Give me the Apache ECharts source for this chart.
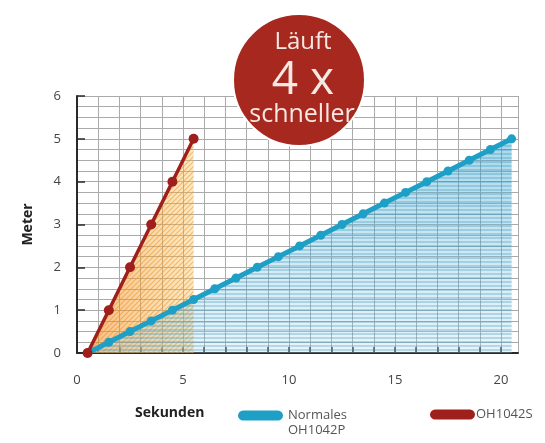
<!DOCTYPE html>
<html>
<head>
<meta charset="utf-8">
<script src="https://cdn.jsdelivr.net/npm/echarts@6/dist/echarts.min.js"></script>
<style>
  html, body { margin: 0; padding: 0; background: #fff; }
  #chart { width: 545px; height: 443px; }
</style>
</head>
<body>
<div id="chart"></div>
<script>
// Sekunden -> Meter, OH1042S (schnell)
const fastSeconds = [0.5, 1.5, 2.5, 3.5, 4.5, 5.5];
const fastMeters = [0, 1, 2, 3, 4, 5];
// Normales OH1042P
const normalSeconds = [0.5, 1.5, 2.5, 3.5, 4.5, 5.5, 6.5, 7.5, 8.5, 9.5, 10.5,
  11.5, 12.5, 13.5, 14.5, 15.5, 16.5, 17.5, 18.5, 19.5, 20.5];
const normalMeters = [0, 0.25, 0.5, 0.75, 1, 1.25, 1.5, 1.75, 2, 2.25, 2.5,
  2.75, 3, 3.25, 3.5, 3.75, 4, 4.25, 4.5, 4.75, 5];
const xTickLabels = [0, 5, 10, 15, 20];
const yTickLabels = [0, 1, 2, 3, 4, 5, 6];

const fastData = fastSeconds.map((s, i) => [s, fastMeters[i]]);
const normalData = normalSeconds.map((s, i) => [s, normalMeters[i]]);

// schraffur als muster
function hatch(w, h, color, draw) {
  const c = document.createElement("canvas");
  c.width = w;
  c.height = h;
  const ctx = c.getContext("2d");
  ctx.strokeStyle = color;
  ctx.lineWidth = 1.2;
  draw(ctx, w, h);
  return { image: c, repeat: "repeat" };
}
const orangeHatch = hatch(5, 5, "rgba(235,140,20,0.7)", (ctx, w, h) => {
  ctx.beginPath();
  ctx.moveTo(0, h); ctx.lineTo(w, 0);
  ctx.moveTo(-1, 1); ctx.lineTo(1, -1);
  ctx.moveTo(w - 1, h + 1); ctx.lineTo(w + 1, h - 1);
  ctx.stroke();
});
const blueHatch = hatch(14, 4, "rgba(25,135,180,0.6)", (ctx, w, h) => {
  ctx.beginPath();
  ctx.moveTo(0, 2); ctx.lineTo(w, 2);
  ctx.stroke();
});

const font = "'Open Sans', 'Noto Sans', sans-serif";
const gridColor = "#aaaaaa";
const pill = "path://M5,0 H39 A5,5 0 0 1 39,10 H5 A5,5 0 0 1 5,0 Z";

const chart = echarts.init(document.getElementById("chart"));
chart.setOption({
  backgroundColor: "#fff",
  animation: false,
  grid: { left: 77, right: 27, top: 96, bottom: 90, containLabel: false },
  legend: [
    {
      left: 233, top: 388,
      data: ["Normales OH1042P"],
      icon: pill,
      itemWidth: 45, itemHeight: 11, itemGap: 6,
      formatter: () => "\nNormales\nOH1042P",
      textStyle: { fontFamily: font, fontSize: 13, color: "#555", lineHeight: 15 },
    },
    {
      left: 425, top: 403,
      data: ["OH1042S"],
      icon: pill,
      itemWidth: 45, itemHeight: 11,
      textStyle: { fontFamily: font, fontSize: 13, color: "#555", padding: [0, 0, 0, -4] },
    },
  ],
  xAxis: {
    type: "value",
    min: 0, max: 20.8, interval: 1,
    axisLine: { lineStyle: { color: "#2a2a2a", width: 2 } },
    axisTick: { inside: true, length: 6, lineStyle: { color: "#2a2a2a", width: 1.5 } },
    axisLabel: {
      fontFamily: font, fontSize: 13, color: "#444", margin: 21,
      showMaxLabel: false,
      formatter: (v) => (xTickLabels.indexOf(v) >= 0 ? String(v) : ""),
    },
    splitLine: { show: true, lineStyle: { color: gridColor, width: 1 } },
  },
  yAxis: {
    type: "value",
    min: 0, max: 6, interval: 1,
    name: "Meter",
    nameLocation: "middle",
    nameRotate: 90,
    nameGap: 42,
    nameTextStyle: { fontFamily: font, fontSize: 14, fontWeight: "bold", color: "#222" },
    axisLine: { show: true, lineStyle: { color: "#2a2a2a", width: 2 } },
    axisTick: { show: true, inside: true, length: 8, lineStyle: { color: "#2a2a2a", width: 1.5 } },
    axisLabel: {
      fontFamily: font, fontSize: 13, color: "#444", margin: 16,
      formatter: (v) => (yTickLabels.indexOf(v) >= 0 ? String(v) : ""),
    },
    splitLine: { show: true, lineStyle: { color: gridColor, width: 1 } },
    minorTick: { show: false, splitNumber: 4 },
    minorSplitLine: { show: true, lineStyle: { color: gridColor, width: 1 } },
  },
  series: [
    {
      name: "fast-fill", type: "line", data: fastData, silent: true, z: 1,
      showSymbol: false, lineStyle: { width: 0 },
      areaStyle: {
        color: new echarts.graphic.LinearGradient(0, 0, 1, 0, [
          { offset: 0, color: "rgba(240,135,30,0.8)" },
          { offset: 1, color: "rgba(248,195,90,0.5)" },
        ]),
      },
    },
    {
      name: "fast-hatch", type: "line", data: fastData, silent: true, z: 1,
      showSymbol: false, lineStyle: { width: 0 },
      areaStyle: { color: orangeHatch },
    },
    {
      name: "normal-fill", type: "line", data: normalData, silent: true, z: 1,
      showSymbol: false, lineStyle: { width: 0 },
      areaStyle: {
        color: new echarts.graphic.LinearGradient(0, 0, 0, 1, [
          { offset: 0, color: "rgba(45,160,205,0.6)" },
          { offset: 1, color: "rgba(175,215,235,0.4)" },
        ]),
      },
    },
    {
      name: "normal-hatch", type: "line", data: normalData, silent: true, z: 1,
      showSymbol: false, lineStyle: { width: 0 },
      areaStyle: { color: blueHatch },
    },
    {
      name: "Normales OH1042P", type: "line", data: normalData, z: 3,
      symbol: "circle", symbolSize: 9,
      itemStyle: { color: "#1e9fc6" },
      lineStyle: { color: "#1e9fc6", width: 5 },
    },
    {
      name: "OH1042S", type: "line", data: fastData, z: 4,
      symbol: "circle", symbolSize: 10,
      itemStyle: { color: "#9e1f1b" },
      lineStyle: { color: "#9e1f1b", width: 3.5 },
    },
  ],
  graphic: [
    {
      type: "text", left: 135, top: 406, z: 10,
      style: { text: "Sekunden", font: "bold 14px " + font, fill: "#222" },
    },
    {
      type: "circle", z: 20,
      shape: { cx: 299, cy: 80, r: 66 },
      style: { fill: "#a6281f", stroke: "#fff", lineWidth: 2 },
    },
    {
      type: "text", z: 21, x: 303, y: 42,
      style: { text: "Läuft", font: "24px " + font, fill: "#f6e8e2", align: "center", verticalAlign: "middle" },
    },
    {
      type: "text", z: 21, x: 303, y: 81,
      style: { text: "4 x", font: "46px " + font, fill: "#f6e8e2", align: "center", verticalAlign: "middle" },
    },
    {
      type: "text", z: 21, x: 302, y: 115,
      style: { text: "schneller", font: "25px " + font, fill: "#f6e8e2", align: "center", verticalAlign: "middle" },
    },
  ],
});
</script>
</body>
</html>
